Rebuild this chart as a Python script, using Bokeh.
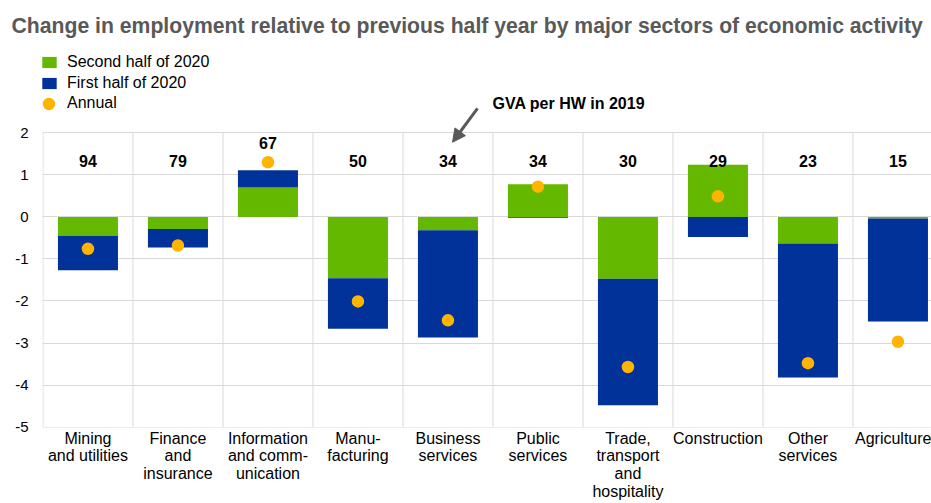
import numpy as np
from bokeh.plotting import figure
from bokeh.models import (ColumnDataSource, FixedTicker, Range1d, Legend, LegendItem,
                          Label, Arrow, NormalHead)
from bokeh.core.properties import value
from bokeh.embed import file_html
from bokeh.resources import INLINE

# ---------------- data ----------------
sectors = [
    "Mining\nand utilities",
    "Finance\nand\ninsurance",
    "Information\nand comm-\nunication",
    "Manu-\nfacturing",
    "Business\nservices",
    "Public\nservices",
    "Trade,\ntransport\nand\nhospitality",
    "Construction",
    "Other\nservices",
    "Agriculture",
]
second_half = [-0.45, -0.29, 0.70, -1.46, -0.32, 0.78, -1.47, 1.24, -0.63, -0.04]
first_half = [-0.82, -0.44, 0.41, -1.20, -2.55, -0.02, -3.01, -0.48, -3.19, -2.45]
annual = [-0.76, -0.68, 1.30, -2.01, -2.46, 0.72, -3.57, 0.49, -3.48, -2.97]
gva_2019 = [94, 79, 67, 50, 34, 34, 30, 29, 23, 15]
y_ticks = [-5, -4, -3, -2, -1, 0, 1, 2]
legend_labels = ["Second half of 2020", "First half of 2020", "Annual"]
title_text = "Change in employment relative to previous half year by major sectors of economic activity"
annotation_text = "GVA per HW in 2019"

# ---------------- styles ----------------
GREEN, BLUE, GOLD = "#65B800", "#003299", "#FFB400"
GRID = "#d9d9d9"
TITLE_GREY = "#595959"
FONT = "Liberation Sans"

n = len(sectors)
x = np.arange(n) + 0.5
g = np.array(second_half)
b = np.array(first_half)
same_sign = np.sign(g) == np.sign(b)
b_bottom = np.where(same_sign, g, 0.0)
b_top = b_bottom + b
label_y = np.maximum(1.33, np.array(annual) + 0.46)

src = ColumnDataSource(dict(
    x=x, zero=np.zeros(n), g=g, b_bottom=b_bottom, b_top=b_top,
    annual=annual, label_y=label_y, gva=[str(v) for v in gva_2019],
))
bounds = np.arange(n + 1)
grid_src = ColumnDataSource(dict(x=bounds, y0=np.full(n + 1, min(y_ticks)),
                                 y1=np.full(n + 1, max(y_ticks))))

# ---------------- layout ----------------
W, H = 931, 503
LEFT, TOP, BOTTOM = 42, 40, 75
PX_PER_CAT = 90.0
PX_PER_UNIT = 42.14
x0 = -0.005
y0 = -5.01
frame_h = H - TOP - BOTTOM
p = figure(width=W, height=H, output_backend="svg", toolbar_location=None,
           x_range=Range1d(x0, x0 + (W - LEFT) / PX_PER_CAT),
           y_range=Range1d(y0, y0 + frame_h / PX_PER_UNIT),
           min_border_left=LEFT, min_border_right=0,
           min_border_top=TOP, min_border_bottom=BOTTOM)
p.outline_line_color = None
p.background_fill_color = "white"
p.border_fill_color = "white"

# title
p.title.text = title_text
p.title.align = "left"
p.title.offset = -31
p.title.standoff = 7
p.title.text_font = FONT
p.title.text_font_size = "21.2px"
p.title.text_font_style = "bold"
p.title.text_color = TITLE_GREY

# vertical grid lines between sectors (only over the value range)
p.segment(x0="x", y0="y0", x1="x", y1="y1", source=grid_src,
          line_color=GRID, line_width=1)

rg = p.vbar(x="x", width=0.667, bottom="zero", top="g", source=src,
            fill_color=GREEN, line_color=None)
rb = p.vbar(x="x", width=0.667, bottom="b_bottom", top="b_top", source=src,
            fill_color=BLUE, line_color=None)
rd = p.scatter(x="x", y="annual", size=12.5, source=src,
               fill_color=GOLD, line_color=None)

p.text(x="x", y="label_y", text="gva", source=src,
       text_font=value(FONT), text_font_style="bold", text_font_size="16px",
       text_align="center", text_baseline="middle", text_color="#000000")

# axes
p.yaxis.ticker = FixedTicker(ticks=y_ticks)
p.yaxis.major_label_overrides = {t: str(t) for t in y_ticks}
p.xaxis.ticker = FixedTicker(ticks=[float(v) for v in x])
p.xaxis.major_label_overrides = {float(v): s for v, s in zip(x, sectors)}
for ax in (p.xaxis, p.yaxis):
    ax.axis_line_color = None
    ax.major_tick_line_color = None
    ax.minor_tick_line_color = None
    ax.major_tick_out = 0
    ax.major_tick_in = 0
    ax.axis_label_standoff = 0
    ax.major_label_text_font = FONT
    ax.major_label_text_color = "#000000"
p.yaxis.major_label_text_font_size = "15px"
p.yaxis.major_label_standoff = 14
p.xaxis.major_label_text_font_size = "16px"
p.xaxis.major_label_text_line_height = 1.05
p.xaxis.major_label_standoff = 2

p.xgrid.visible = False
p.ygrid.grid_line_color = GRID
p.ygrid.grid_line_width = 1

# legends (location = bottom-left corner, screen units from frame bottom-left)
frame_bottom = H - BOTTOM
leg1 = Legend(items=[LegendItem(label=legend_labels[0], renderers=[rg]),
                     LegendItem(label=legend_labels[1], renderers=[rb])],
              location=(-2, frame_bottom - 93.8),
              glyph_width=18, glyph_height=14, label_height=20, spacing=1,
              padding=0, margin=0, label_standoff=9,
              border_line_color=None, background_fill_alpha=0,
              label_text_font=FONT, label_text_font_size="16px",
              label_text_color="#000000")
leg2 = Legend(items=[LegendItem(label=legend_labels[2], renderers=[rd])],
              location=(-9, frame_bottom - 119.7),
              glyph_width=31, glyph_height=31, label_height=20, spacing=0,
              padding=0, margin=0, label_standoff=3,
              border_line_color=None, background_fill_alpha=0,
              label_text_font=FONT, label_text_font_size="16px",
              label_text_color="#000000")
p.add_layout(leg1)
p.add_layout(leg2)


def ydata(page_y):
    return y0 + (frame_bottom - page_y) / PX_PER_UNIT


def xdata(page_x):
    return x0 + (page_x - LEFT) / PX_PER_CAT


# annotation
p.add_layout(Label(x=xdata(492), y=ydata(103), text=annotation_text,
                   text_font=FONT, text_font_size="16px",
                   text_font_style="bold", text_color="#000000",
                   text_baseline="middle", text_align="left"))
p.add_layout(Arrow(x_start=xdata(477), y_start=ydata(108),
                   x_end=xdata(452), y_end=ydata(142),
                   line_width=3, line_color=TITLE_GREY,
                   end=NormalHead(size=13, fill_color=TITLE_GREY, line_color=TITLE_GREY)))

open("out.html", "w").write(file_html(p, INLINE))
